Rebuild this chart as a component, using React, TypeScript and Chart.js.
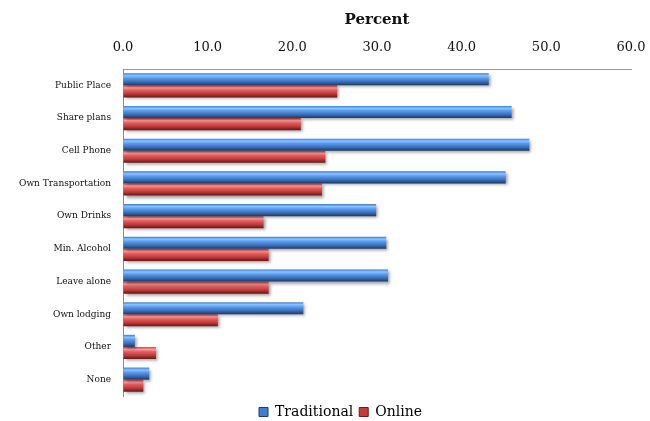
import React, { useEffect, useRef } from "react";
import { Chart, registerables } from "chart.js";

Chart.register(...registerables);

const categories = [
  "Public Place",
  "Share plans",
  "Cell Phone",
  "Own Transportation",
  "Own Drinks",
  "Min. Alcohol",
  "Leave alone",
  "Own lodging",
  "Other",
  "None",
];
const traditional = [43.2, 45.9, 48.0, 45.2, 29.9, 31.1, 31.3, 21.3, 1.4, 3.1];
const online = [25.3, 21.0, 23.9, 23.5, 16.6, 17.2, 17.2, 11.2, 3.9, 2.4];
const seriesNames = ["Traditional", "Online"];
const axisMin = 0;
const axisMax = 60;
const axisStep = 10;
const axisTitle = "Percent";

const blueStops: [number, string][] = [
  [0, "#3f7cc9"],
  [0.2, "#8cc2ff"],
  [0.4, "#5a9bec"],
  [0.7, "#3a70bb"],
  [1, "#1c3864"],
];
const redStops: [number, string][] = [
  [0, "#c84242"],
  [0.2, "#ff9c9c"],
  [0.4, "#e55c5c"],
  [0.7, "#bd3a3a"],
  [1, "#641616"],
];

const bevelPlugin = {
  id: "bevel",
  afterLayout(chart: any) {
    const lg = chart.legend;
    if (lg) {
      lg.left += 25;
      lg.right += 25;
      lg.top += 3;
      lg.bottom += 3;
    }
  },
  beforeDatasetsDraw(chart: any) {
    const ctx = chart.ctx;
    chart.data.datasets.forEach((_ds: any, di: number) => {
      const meta = chart.getDatasetMeta(di);
      const stops = di === 0 ? blueStops : redStops;
      meta.data.forEach((el: any) => {
        const { y, height } = el.getProps(["y", "height"], true);
        const top = y - height / 2;
        const g = ctx.createLinearGradient(0, top, 0, top + height);
        stops.forEach(([o, c]) => g.addColorStop(o, c));
        el.options = { ...el.options, backgroundColor: g };
      });
    });
    ctx.save();
    ctx.shadowColor = "rgba(0,0,0,0.38)";
    ctx.shadowBlur = 3;
    ctx.shadowOffsetX = 2;
    ctx.shadowOffsetY = 2;
  },
  afterDatasetsDraw(chart: any) {
    chart.ctx.restore();
  },
};

export default function App() {
  const ref = useRef<HTMLCanvasElement | null>(null);
  useEffect(() => {
    if (!ref.current) return;
    const chart = new Chart(ref.current, {
      type: "bar",
      data: {
        labels: categories,
        datasets: [
          {
            label: seriesNames[0],
            data: traditional,
            backgroundColor: "#4a8ad8",
            borderWidth: 0,
          },
          {
            label: seriesNames[1],
            data: online,
            backgroundColor: "#d84848",
            borderWidth: 0,
          },
        ],
      },
      options: {
        indexAxis: "y",
        responsive: false,
        animation: false,
        layout: { padding: { left: 0, right: 19, top: 0, bottom: -5 } },
        datasets: {
          bar: { categoryPercentage: 0.74, barPercentage: 1 },
        },
        scales: {
          x: {
            position: "top",
            min: axisMin,
            max: axisMax,
            ticks: {
              stepSize: axisStep,
              padding: 14,
              color: "#111",
              font: { family: "DejaVu Serif", size: 13 },
              callback: (v: any) => Number(v).toFixed(1),
            },
            grid: { display: true, drawOnChartArea: false, drawTicks: false },
            border: { display: true, color: "#9a9a9a", width: 1 },
            title: {
              display: true,
              text: axisTitle,
              color: "#111",
              font: { family: "DejaVu Serif", size: 15, weight: "bold" },
              padding: { top: 11, bottom: 0 },
            },
            afterFit: (s: any) => {
              s.height = 69;
              s.paddingRight = 0;
              s.paddingLeft = 0;
            },
          },
          y: {
            ticks: {
              padding: 12,
              color: "#111",
              font: { family: "DejaVu Serif", size: 9 },
            },
            grid: { display: false, drawTicks: false },
            border: { display: true, color: "#8a8a8a", width: 1 },
            afterFit: (s: any) => {
              s.width = 123;
            },
          },
        },
        plugins: {
          legend: {
            position: "bottom",
            labels: {
              boxWidth: 9,
              boxHeight: 9,
              padding: 6,
              color: "#111",
              font: { family: "DejaVu Serif", size: 14 },
              generateLabels: () =>
                seriesNames.map((n, i) => ({
                  text: n,
                  fillStyle: i === 0 ? "#3f7fd0" : "#c83a3a",
                  strokeStyle: i === 0 ? "#1f3d6c" : "#6a1818",
                  lineWidth: 1,
                  datasetIndex: i,
                  hidden: false,
                })),
            },
          },
          tooltip: { enabled: false },
        },
      },
      plugins: [bevelPlugin],
    });
    return () => chart.destroy();
  }, []);
  return (
    <div style={{ position: "absolute", left: 0, top: 0, width: 650, height: 421, background: "#fff" }}>
      <canvas ref={ref} width={650} height={421} />
    </div>
  );
}
